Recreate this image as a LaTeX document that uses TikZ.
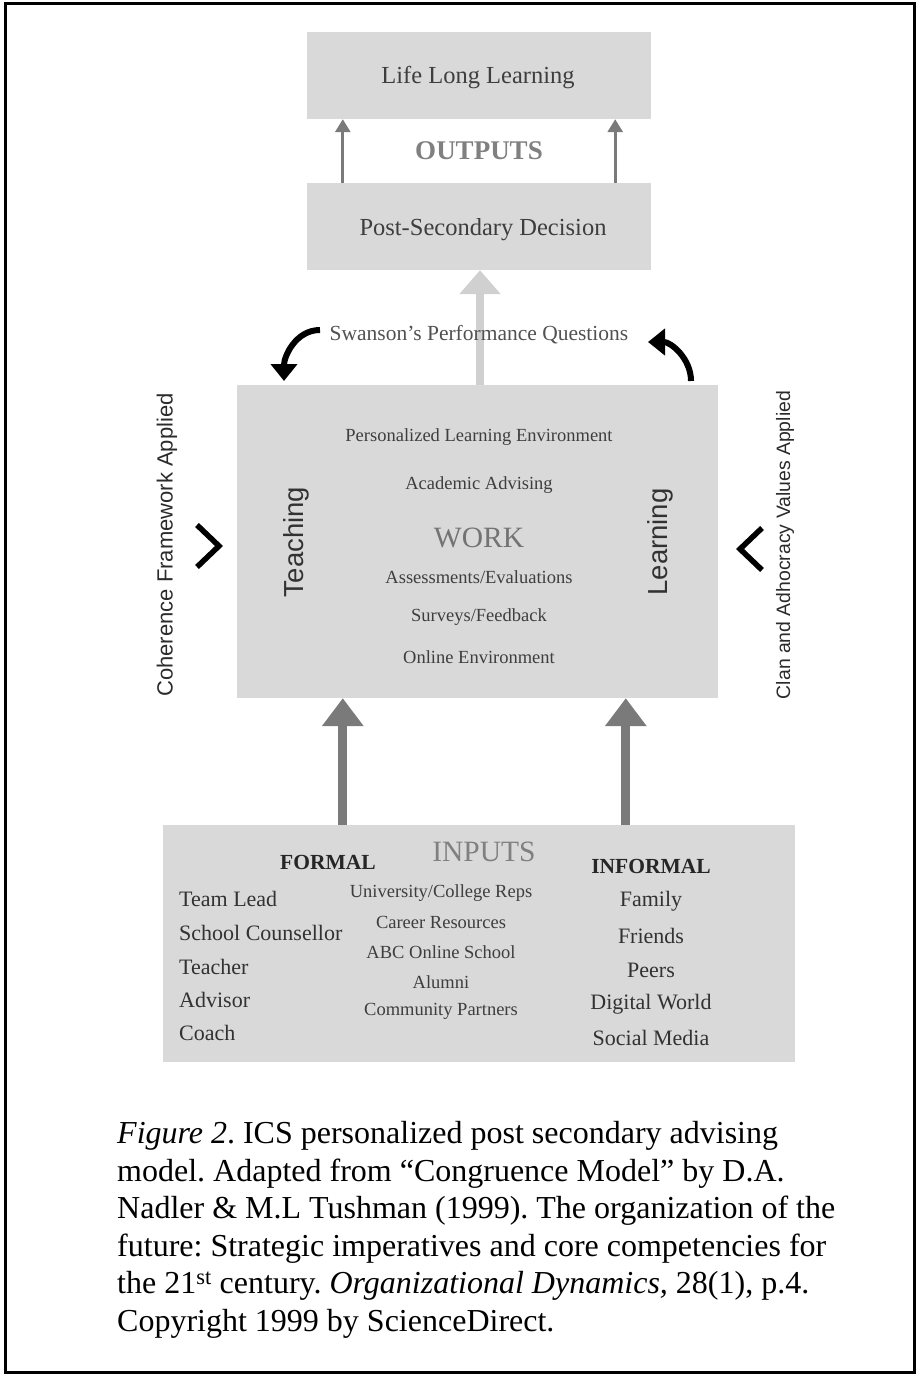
\documentclass[tikz,border=0pt]{standalone}
\usepackage{fontspec}
\setmainfont{Liberation Serif}
\setsansfont{Liberation Sans}
\usetikzlibrary{arrows.meta, positioning}
\frenchspacing

\definecolor{boxgray}{RGB}{217,217,217}
\definecolor{arrowgray}{RGB}{122,122,122}
\definecolor{lightarrow}{RGB}{208,208,208}
\definecolor{textgray}{RGB}{62,62,62}
\definecolor{headgray}{RGB}{128,128,128}

\tikzset{
  box/.style={fill=boxgray, inner sep=0pt},
  boxtext/.style={text=textgray, inner sep=0pt, font=\fontsize{18.5}{20}\selectfont},
  itemtext/.style={text=textgray!80!black, inner sep=0pt, font=\fontsize{22}{24}\selectfont},
  smallitem/.style={text=textgray, inner sep=0pt, font=\fontsize{18.5}{20}\selectfont},
  outarrow/.style={draw=arrowgray, line width=3pt, -{Triangle[width=15pt,length=13pt]}},
  inarrow/.style={draw=arrowgray, line width=9pt, -{Triangle[width=40pt,length=28pt]}},
  lightarr/.style={draw=lightarrow, line width=8pt, -{Triangle[width=40pt,length=24pt]}},
  curvarrow/.style={draw=black, line width=6pt, -{Triangle[width=26pt,length=17pt]}},
  chevron/.style={draw=black, line width=5.5pt},
  sidetext/.style={rotate=90, text=textgray!70!black, inner sep=0pt, font=\sffamily\fontsize{22}{24}\selectfont}
}

\begin{document}
\begin{tikzpicture}[x=1pt, y=-1pt]
  \useasboundingbox (0,0) rectangle (916,1375);
  % frame
  \draw[line width=3pt] (5,4) rectangle (914,1372);

  % outputs
  \node[box, minimum width=344pt, minimum height=87pt] (life) at (479,75.5) {};
  \node[boxtext, font=\fontsize{24.5}{26}\selectfont] (lifetext) at (478,78) {Life Long Learning};
  \node[box, minimum width=344pt, minimum height=87pt] (post) at (479,226.5) {};
  \node[boxtext, font=\fontsize{24.5}{26}\selectfont] (posttext) at (483,230) {Post-Secondary Decision};
  \node[text=headgray, inner sep=0pt, font=\bfseries\fontsize{27}{29}\selectfont] (outputs) at (479,151) {OUTPUTS};
  \draw[outarrow] ([xshift=36pt]post.north west) -- ([xshift=36pt]life.south west);
  \draw[outarrow] ([xshift=-36pt]post.north east) -- ([xshift=-36pt]life.south east);

  % work
  \node[box, minimum width=481pt, minimum height=313pt] (work) at (477.5,541.5) {};
  \draw[lightarr] ([xshift=2.5pt]work.north) -- ([xshift=2.5pt]work.north |- post.south);
  \node[text=textgray!90!white, inner sep=0pt, font=\fontsize{21.5}{23}\selectfont] (swanson) at (479,335) {Swanson's Performance Questions};
  \coordinate (lefttail) at (320,330);
  \coordinate (lefttip) at (284,381);
  \coordinate (righttail) at (691,381);
  \coordinate (righttip) at (648,342);
  \draw[curvarrow] (lefttail) to[out=180, in=90] (lefttip);
  \draw[curvarrow] (righttail) to[out=90, in=0] (righttip);

  \node[boxtext] (ple) at (479,437) {Personalized Learning Environment};
  \node[boxtext] (advising) at (479,485) {Academic Advising};
  \node[text=headgray!90!black, inner sep=0pt, font=\fontsize{29.5}{31}\selectfont] (worktext) at (479,538) {WORK};
  \node[boxtext] (assess) at (479,577) {Assessments/Evaluations};
  \node[boxtext] (surveys) at (479,617) {Surveys/Feedback};
  \node[boxtext] (online) at (479,657) {Online Environment};
  \node[rotate=90, text=textgray!80!black, inner sep=0pt, font=\sffamily\fontsize{27.5}{29}\selectfont] (teaching) at (296,542) {Teaching};
  \node[rotate=90, text=textgray!80!black, inner sep=0pt, font=\sffamily\fontsize{27.5}{29}\selectfont] (learning) at (660,542) {Learning};

  % sides
  \node[sidetext] (coherence) at (167,545) {Coherence Framework Applied};
  \node[sidetext, font=\sffamily\fontsize{19.4}{21}\selectfont] (clan) at (785,545) {Clan and Adhocracy Values Applied};
  \draw[chevron] (197,525) -- (219,546) -- (197,567);
  \draw[chevron] (762,528) -- (740,549) -- (762,570);

  % inputs
  \node[box, minimum width=632pt, minimum height=237pt] (inputs) at (479,943.5) {};
  \draw[inarrow] ([xshift=180pt]inputs.north west) -- ([xshift=180pt]inputs.north west |- work.south);
  \draw[inarrow] ([xshift=463pt]inputs.north west) -- ([xshift=463pt]inputs.north west |- work.south);
  \node[text=black!85, inner sep=0pt, font=\bfseries\fontsize{21.5}{23}\selectfont] (formal) at (328,862) {FORMAL};
  \node[text=headgray, inner sep=0pt, font=\fontsize{29.5}{31}\selectfont] (inputstext) at (484,852) {INPUTS};
  \node[text=black!85, inner sep=0pt, font=\bfseries\fontsize{21.5}{23}\selectfont] (informal) at (651,866) {INFORMAL};

  \node[itemtext, anchor=west] (teamlead) at (179,899) {Team Lead};
  \node[itemtext, anchor=west] (counsellor) at (179,933) {School Counsellor};
  \node[itemtext, anchor=west] (teacher) at (179,967) {Teacher};
  \node[itemtext, anchor=west] (advisor) at (179,1000) {Advisor};
  \node[itemtext, anchor=west] (coach) at (179,1033) {Coach};

  \node[smallitem] (reps) at (441,893) {University/College Reps};
  \node[smallitem] (career) at (441,922) {Career Resources};
  \node[smallitem] (abc) at (441,952) {ABC Online School};
  \node[smallitem] (alumni) at (441,982) {Alumni};
  \node[smallitem] (partners) at (441,1011) {Community Partners};

  \node[itemtext] (family) at (651,901) {Family};
  \node[itemtext] (friends) at (651,936) {Friends};
  \node[itemtext] (peers) at (651,970) {Peers};
  \node[itemtext] (digital) at (651,1004) {Digital World};
  \node[itemtext] (social) at (651,1038) {Social Media};

  % caption
  \node[anchor=north west, align=left, inner sep=0pt, font=\fontsize{32}{37.6}\selectfont] (caption) at (117,1121)
    {\textit{Figure 2}. ICS personalized post secondary advising\\
     model. Adapted from ``Congruence Model'' by D.A.\\
     Nadler \& M.L Tushman (1999). The organization of the\\
     future: Strategic imperatives and core competencies for\\
     the 21\textsuperscript{st} century. \textit{Organizational Dynamics,} 28(1), p.4.\\
     Copyright 1999 by ScienceDirect.};
\end{tikzpicture}
\end{document}
